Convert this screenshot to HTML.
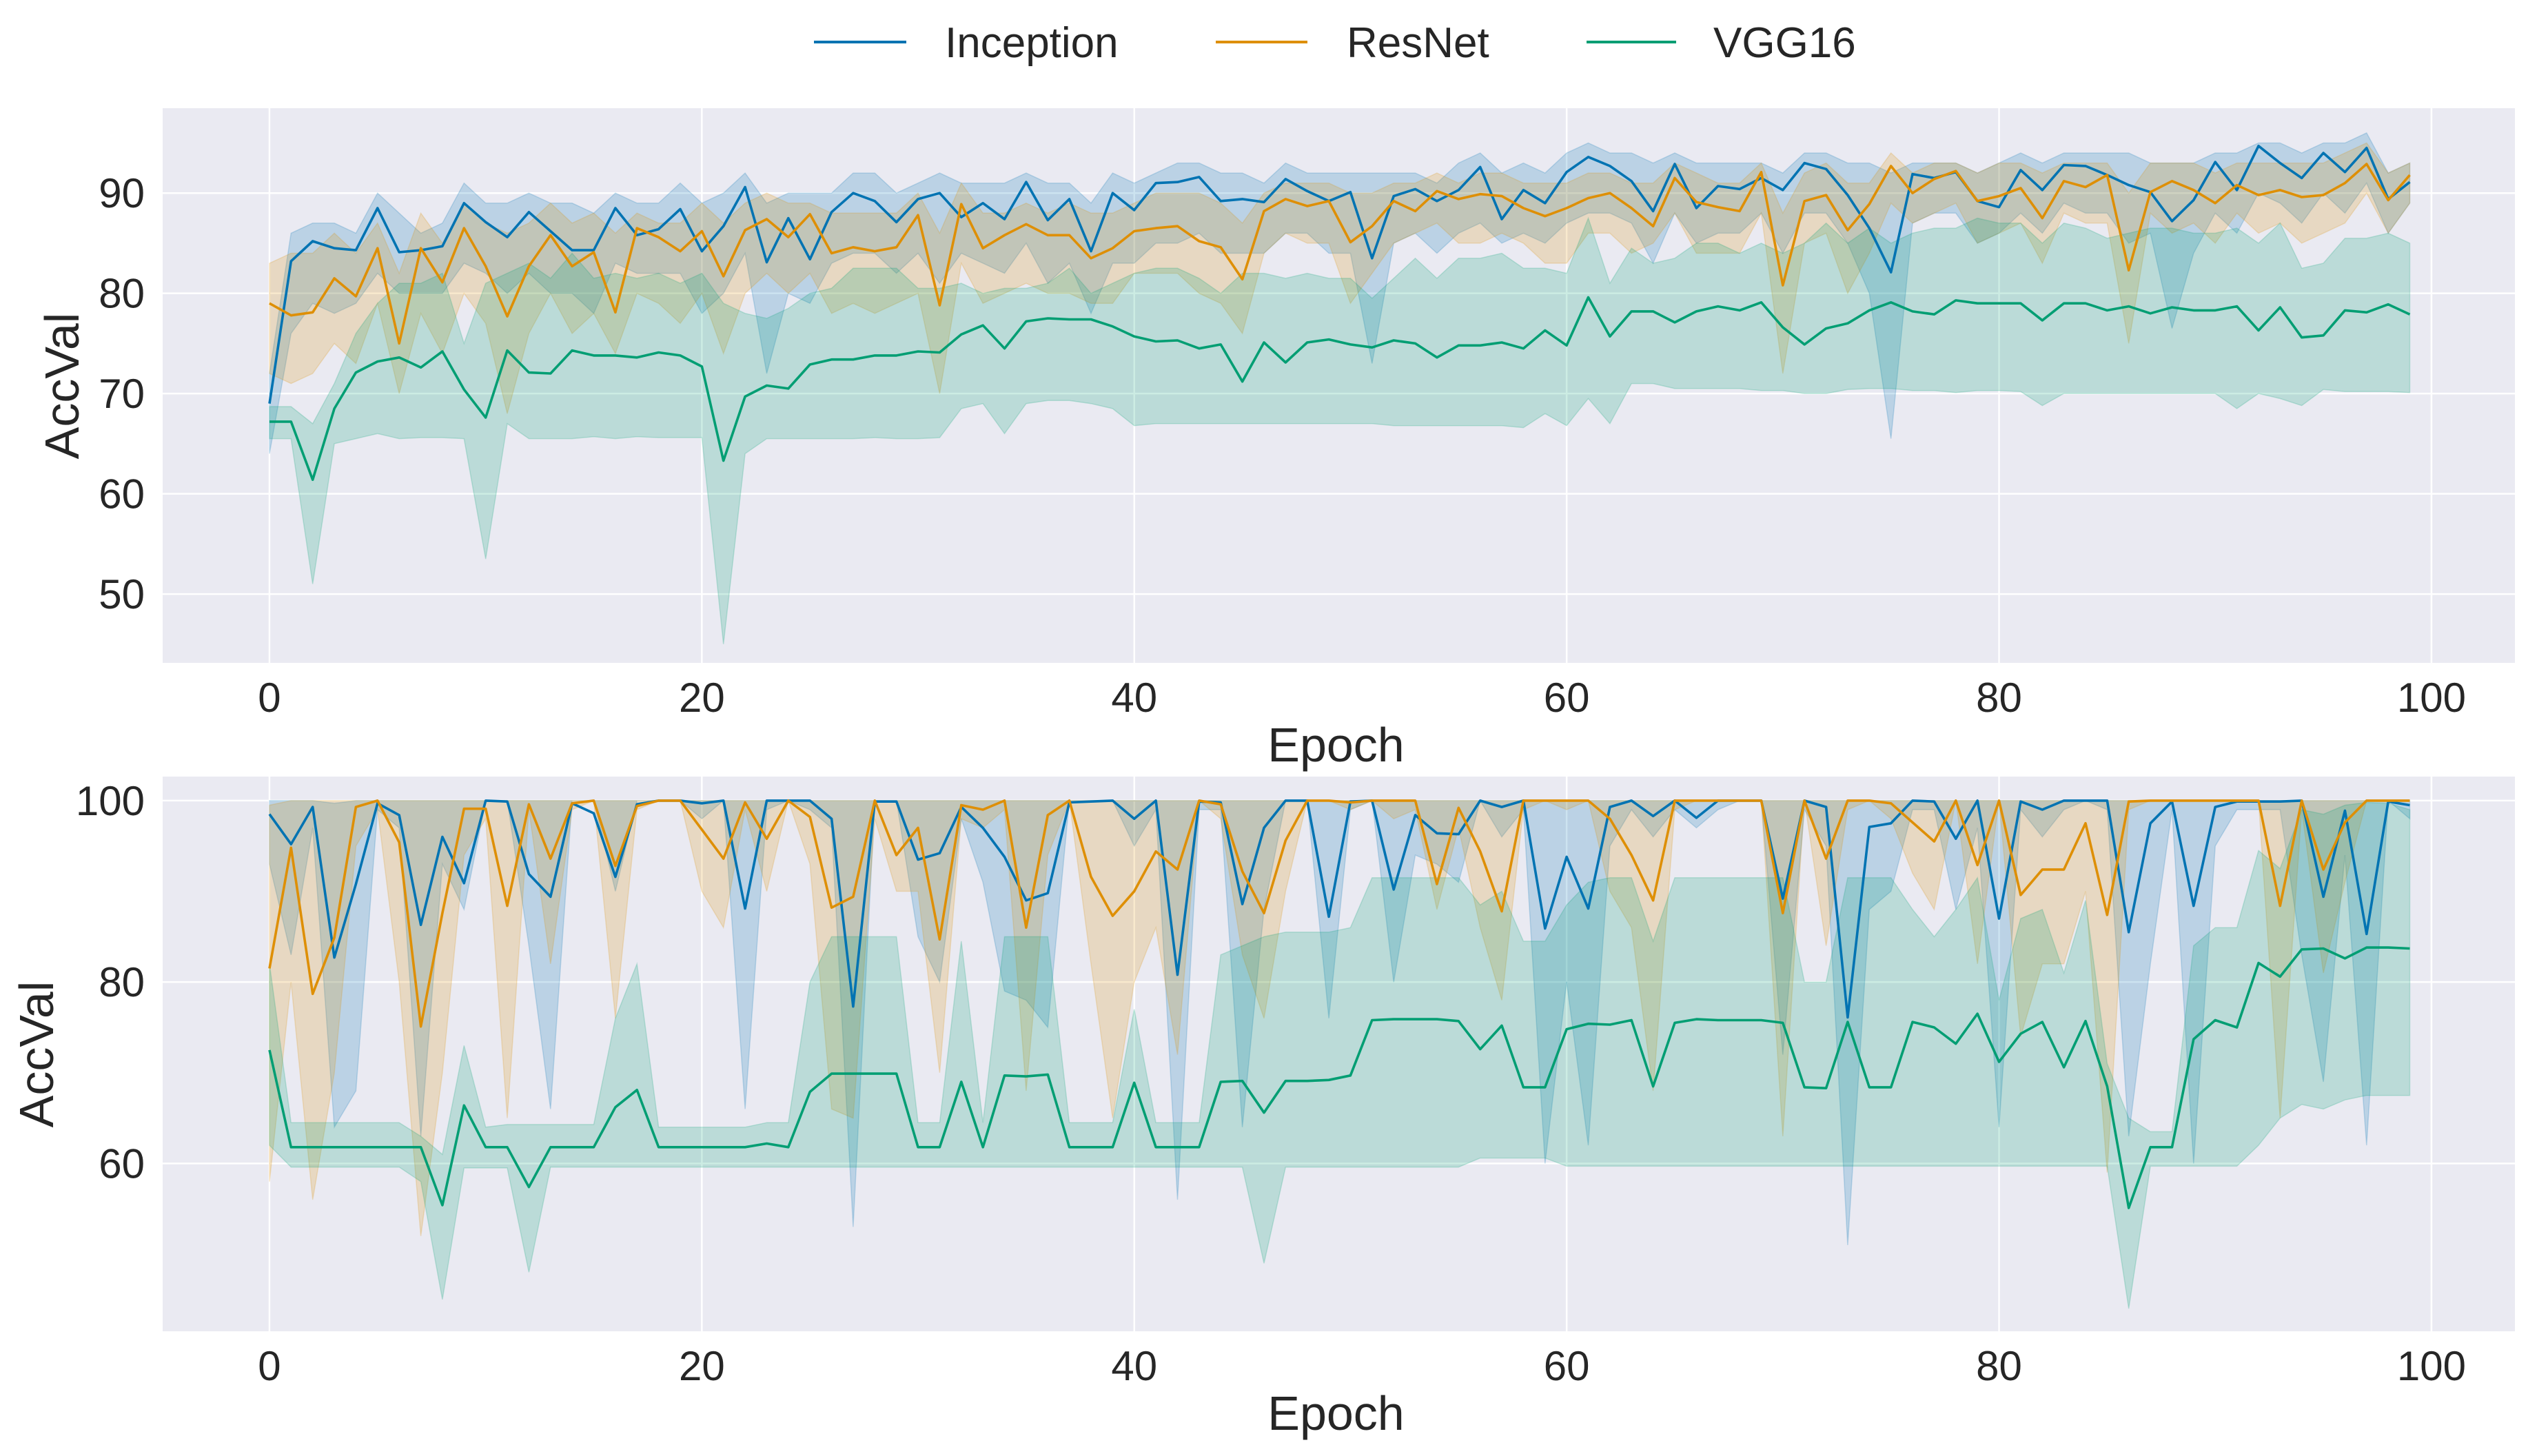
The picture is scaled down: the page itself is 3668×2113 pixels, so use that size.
<!DOCTYPE html>
<html><head><meta charset="utf-8"><style>
html,body{margin:0;padding:0;background:#fff;}
svg{display:block;font-family:"Liberation Sans",Arial,sans-serif;}
</style></head><body>
<svg id="chart" width="3668" height="2113" viewBox="0 0 3668 2113" xmlns="http://www.w3.org/2000/svg">
<g id="legend">
<g><line x1="1181" y1="61" x2="1315" y2="61" stroke="#0173b2" stroke-width="4"/><text x="1371" y="83" font-size="62" fill="#262626">Inception</text></g>
<g><line x1="1764" y1="61" x2="1897" y2="61" stroke="#de8f05" stroke-width="4"/><text x="1954" y="83" font-size="62" fill="#262626">ResNet</text></g>
<g><line x1="2302" y1="61" x2="2432" y2="61" stroke="#029e73" stroke-width="4"/><text x="2486" y="83" font-size="62" fill="#262626">VGG16</text></g>
</g>
</svg>
<script>
const epochs = Array.from({length:100},(_, i)=>i);
const seriesNames = ["Inception","ResNet","VGG16"];
const xTicks = [0,20,40,60,80,100];
const topYTicks = [50,60,70,80,90];
const botYTicks = [60,80,100];

const topIncMean = [69.0,83.2,85.2,84.5,84.3,88.5,84.1,84.3,84.7,89.0,87.1,85.6,88.1,86.2,84.3,84.3,88.5,85.8,86.4,88.4,84.2,86.7,90.6,83.1,87.5,83.4,88.1,90.0,89.2,87.1,89.4,90.0,87.6,89.0,87.4,91.1,87.3,89.4,84.2,90.0,88.3,91.0,91.1,91.6,89.2,89.4,89.1,91.4,90.2,89.2,90.1,83.5,89.7,90.4,89.2,90.3,92.6,87.4,90.3,89.0,92.1,93.6,92.7,91.2,88.2,92.9,88.5,90.7,90.4,91.5,90.3,93.0,92.4,89.8,86.5,82.1,91.9,91.5,92.1,89.2,88.6,92.3,90.3,92.8,92.7,91.8,90.8,90.1,87.2,89.3,93.1,90.3,94.7,93.0,91.5,94.0,92.1,94.5,89.4,91.1];
const topIncLo = [64,76,79,78,79,82,80,80,80,83,82,80,82,80,80,78,83,82,82,82,78,80,84,72,80,79,83,84,84,82,84,81,84,83,82,85,81,83,78,83,83,85,85,86,84,84,84,86,86,84,84,73,85,86,84,86,87,85,86,85,87,88,88,87,83,88,85,86,86,88,84,88,88,85,80,65.5,87,88,88,85,86,88,86,89,88,88,85,86,76.5,84,88,86,90,89,87,90,88,91,86,89];
const topIncHi = [72,86,87,87,86,90,88,86,87,91,89,89,90,89,89,88,90,89,89,91,89,90,92,89,90,90,90,92,92,90,91,92,91,91,91,92,91,91,89,92,91,92,93,93,92,92,91,93,92,92,92,92,92,92,91,93,94,92,93,92,94,95,94,94,93,94,93,93,93,93,92,94,94,93,93,92,93,93,93,92,93,94,93,94,94,94,94,93,93,93,94,94,95,95,94,95,95,96,92,93];
const topResMean = [79.0,77.8,78.1,81.5,79.7,84.5,75.0,84.5,81.1,86.5,82.7,77.7,82.7,85.8,82.7,84.1,78.1,86.5,85.6,84.2,86.2,81.7,86.3,87.4,85.6,87.9,84.0,84.6,84.2,84.6,87.8,78.8,88.9,84.5,85.8,86.9,85.8,85.8,83.5,84.5,86.2,86.5,86.7,85.2,84.6,81.4,88.2,89.4,88.7,89.2,85.1,86.7,89.2,88.2,90.2,89.4,89.9,89.7,88.5,87.7,88.5,89.5,90.0,88.5,86.7,91.5,89.1,88.6,88.2,92.1,80.8,89.2,89.8,86.3,88.9,92.7,90.0,91.4,92.2,89.2,89.7,90.5,87.5,91.2,90.6,91.8,82.3,90.1,91.2,90.3,89.0,90.8,89.8,90.3,89.6,89.8,91.0,92.9,89.3,91.8];
const topResLo = [72,71,72,75,73,79,70,78,74,80,77,68,76,80,76,78,74,80,79,77,80,74,80,82,80,82,78,79,78,79,80,70,83,79,80,81,80,80,79,79,82,82,82,80,79,76,84,86,85,85,79,82,85,86,87,85,85,86,85,83,83,86,86,84,85,88,84,84,84,88,72,85,86,80,84,89,87,88,89,85,86,87,83,88,87,87,75,88,86,87,85,88,86,87,85,86,87,90,86,89];
const topResHi = [83,84,84,86,84,87,82,88,85,89,87,86,87,89,87,88,86,88,87,87,89,87,89,90,89,89,88,88,88,88,90,86,91,88,88,89,88,89,88,88,89,90,90,90,89,87,90,91,91,91,90,90,91,91,92,91,92,92,91,91,91,92,92,91,91,93,92,91,91,93,88,92,93,91,91,94,92,93,93,92,93,93,92,93,93,93,90,93,93,93,92,93,93,93,93,93,94,95,92,93];
const topVggMean = [67.2,67.2,61.4,68.5,72.1,73.2,73.6,72.6,74.2,70.4,67.6,74.3,72.1,72.0,74.3,73.8,73.8,73.6,74.1,73.8,72.7,63.3,69.7,70.8,70.5,72.9,73.4,73.4,73.8,73.8,74.2,74.1,75.9,76.8,74.5,77.2,77.5,77.4,77.4,76.7,75.7,75.2,75.3,74.5,74.9,71.2,75.1,73.1,75.1,75.4,74.9,74.6,75.3,75.0,73.6,74.8,74.8,75.1,74.5,76.3,74.8,79.6,75.7,78.2,78.2,77.1,78.2,78.7,78.3,79.1,76.6,74.9,76.5,77.0,78.3,79.1,78.2,77.9,79.3,79.0,79.0,79.0,77.3,79.0,79.0,78.3,78.7,78.0,78.6,78.3,78.3,78.7,76.3,78.6,75.6,75.8,78.3,78.1,78.9,77.9];
const topVggLo = [65.5,65.5,51,65,65.5,66,65.5,65.6,65.6,65.5,53.5,67,65.5,65.5,65.5,65.7,65.5,65.7,65.6,65.6,65.6,45,64,65.5,65.5,65.5,65.5,65.5,65.6,65.5,65.5,65.6,68.5,69,66,69,69.3,69.3,69,68.5,66.8,67,67,67,67,67,67,67,67,67,67,67,66.8,66.8,66.8,66.8,66.8,66.8,66.6,68,66.8,69.5,67,71,71,70.5,70.5,70.5,70.5,70.3,70.3,70,70,70.4,70.5,70.5,70.3,70.3,70.1,70.3,70.3,70.2,68.8,70,70,70,70,70,70,70,70,68.5,70,69.5,68.8,70.4,70.2,70.2,70.2,70.1];
const topVggHi = [68.7,68.7,67,71,76,79,81,81,82,75,81,82,83,81.5,84,81.5,82,81.5,82,81,82,79,78,77.5,78.5,80,80.5,82.5,82.5,82.5,80.5,80.5,81,80,80.5,80.5,81,82.5,80,81,82,82.5,82.5,81.5,80,82,82,81.5,82,81.5,81.5,79.5,81.5,83.5,81.5,83.5,83.5,84,82.5,82.5,82,87.5,81,84.5,83,83.5,85,85,84,85,84,85,87,85,86.5,85,86,86.5,86.5,87.5,87,87,85,87,86.5,85.5,86,86.5,86.5,86,86,86.5,85,87,82.5,83,85.5,85.5,86,85];

const botIncMean = [98.5,95.2,99.3,82.7,90.8,99.7,98.4,86.3,96.0,90.9,100,99.9,91.9,89.4,99.7,98.6,91.6,99.6,100,100,99.7,100,88.1,100,100,100,98.0,77.3,99.9,99.9,93.5,94.2,99.3,97.0,93.8,89.0,89.8,99.8,99.9,100,98.0,100,80.8,99.9,99.8,88.6,97.0,100,100,87.2,99.9,100,90.2,98.4,96.4,96.3,100,99.3,100,85.9,93.8,88.1,99.3,100,98.3,100,98.1,100,100,100,89.2,100,99.3,76.1,97.1,97.5,100,99.9,95.8,100,87.0,99.9,99.0,100,100,100,85.5,97.5,99.9,88.4,99.3,99.9,99.9,99.9,100,89.4,98.9,85.3,99.9,99.5];
const botIncLo = [93,83,97,64,68,99,97,63,93,88,100,100,84,66,100,100,90,100,100,100,98,100,66,99,100,99,97,53,100,100,85,80,98,91,79,78,75,100,100,100,95,99,56,99,99,64,88,100,100,76,99,100,80,94,93,91,100,96,99,60,80,62,95,99,96,99,97,99,100,100,72,99,95,51,88,90,99,99,88,97,64,99,96,99,100,99,63,82,99,60,95,99,99,99,83,69,94,62,100,98];
const botIncHi = [100,100,100,99.7,100,100,100,100,100,100,100,100,100,100,100,100,100,100,100,100,100,100,100,100,100,100,100,100,100,100,100,100,100,100,100,100,100,100,100,100,100,100,100,100,100,100,100,100,100,100,100,100,100,100,100,100,100,100,100,100,100,100,100,100,100,100,100,100,100,100,100,100,100,100,100,100,100,100,100,100,100,100,100,100,100,100,100,100,100,100,100,100,100,100,100,100,100,100,100,100];
const botResMean = [81.5,94.8,78.7,84.9,99.3,100,95.4,75.1,87.6,99.1,99.1,88.4,99.6,93.6,99.7,100,92.8,99.4,100,100,96.8,93.6,99.8,95.8,100,98.2,88.2,89.4,100,94,97,84.7,99.5,99,100,86.0,98.4,100,91.6,87.3,90.0,94.4,92.4,100,99.6,92.2,87.6,95.6,100,100,99.8,100,100,100,90.8,99.2,94.4,87.8,100,100,100,100,98,94,89,100,100,100,100,100,87.6,100,93.6,100,100,99.7,97.6,95.5,100,92.9,100,89.6,92.4,92.4,97.5,87.4,99.9,100,100,100,100,100,100,88.4,100,92.4,97.6,100,100,100];
const botResLo = [58,80,56,70,95,99,80,52,70,94,98,65,99,82,99,100,76,99,100,100,90,86,99,90,100,93,66,65,98,90,90,70,98,97,99,68,94,100,82,65,80,86,72,100,98,83,76,90,100,100,99,100,98,99,88,97,86,78,99,100,99,100,90,86,68,99,100,100,100,100,63,100,84,99,100,98,92,88,100,82,100,74,82,82,90,59,99,100,100,100,100,100,100,65,99,81,91,100,100,100];
const botResHi = [99.5,100,100,100,100,100,100,100,100,100,100,100,100,100,100,100,100,100,100,100,100,100,100,100,100,100,100,100,100,100,100,100,100,100,100,100,100,100,100,100,100,100,100,100,100,100,100,100,100,100,100,100,100,100,100,100,100,100,100,100,100,100,100,100,100,100,100,100,100,100,100,100,100,100,100,100,100,100,100,100,100,100,100,100,100,100,100,100,100,100,100,100,100,100,100,100,100,100,100,100];
const botVggMean = [72.5,61.8,61.8,61.8,61.8,61.8,61.8,61.8,55.4,66.4,61.8,61.8,57.4,61.8,61.8,61.8,66.2,68.1,61.8,61.8,61.8,61.8,61.8,62.2,61.8,67.9,69.9,69.9,69.9,69.9,61.8,61.8,69.0,61.8,69.7,69.6,69.8,61.8,61.8,61.8,68.9,61.8,61.8,61.8,69.0,69.1,65.6,69.1,69.1,69.2,69.7,75.8,75.9,75.9,75.9,75.7,72.6,75.2,68.4,68.4,74.8,75.4,75.3,75.8,68.5,75.5,75.9,75.8,75.8,75.8,75.5,68.4,68.3,75.6,68.4,68.4,75.6,75.0,73.2,76.5,71.2,74.3,75.6,70.6,75.7,68.5,55.1,61.8,61.8,73.7,75.8,75.0,82.1,80.6,83.6,83.7,82.6,83.8,83.8,83.7];
const botVggLo = [62,59.6,59.6,59.6,59.6,59.6,59.6,58,45,59.5,59.5,59.5,48,59.6,59.6,59.6,59.6,59.6,59.6,59.6,59.6,59.6,59.6,59.6,59.6,59.6,59.6,59.6,59.6,59.6,59.6,59.6,59.6,59.6,59.6,59.6,59.6,59.6,59.6,59.6,59.6,59.6,59.6,59.6,59.6,59.6,49,59.6,59.6,59.6,59.6,59.6,59.6,59.6,59.6,59.6,60.6,60.6,60.6,60.6,59.7,59.7,59.7,59.7,59.7,59.7,59.7,59.7,59.7,59.7,59.7,59.7,59.7,59.7,59.7,59.7,59.7,59.7,59.7,59.7,59.7,59.7,59.7,59.7,59.7,59.7,44,59.7,59.7,59.7,59.7,59.7,62,65,66.5,66,67,67.5,67.5,67.5];
const botVggHi = [82,64.5,64.5,64.5,64.5,64.5,64.5,63,61,73,64,64.3,64.3,64.3,64.3,64.3,76,82,64,64,64,64,64,64.5,64.5,80,85,85,85,85,64.5,64.5,84.5,64.5,85,85,85,64.5,64.5,64.5,77,64.5,64.5,64.5,83,84,85,85.5,85.5,85.5,86,91.5,91.5,91.5,91.5,91.5,88.5,90,84.5,84.5,88.5,91,91.5,91.5,84.5,91.5,91.5,91.5,91.5,91.5,91.5,80,80,91.5,91.5,91.5,88,85,88,91.5,78,87,88,81,89,71,65,63.5,63.5,84,86,86,94.5,92.5,99,98.5,99.5,99.8,99.7,99];

const NS = "http://www.w3.org/2000/svg";
const svg = document.getElementById('chart');
const colors = ["#0173b2","#de8f05","#029e73"];
function mk(tag, attrs, parent){const e=document.createElementNS(NS,tag);for(const k in attrs)e.setAttribute(k,attrs[k]);(parent||svg).appendChild(e);return e;}

const X0 = 236, X1 = 3649, XMIN = -4.94, XMAX = 103.86;
function xs(v){return X0 + (v - XMIN) / (XMAX - XMIN) * (X1 - X0);}

function panel(name, top, bottom, yminV, ymaxV, yTicks, sets, titleX, titleY){
  const ys = v => bottom - (v - yminV) / (ymaxV - yminV) * (bottom - top);
  const g = mk('g', {});
  
  
  const bg = mk('rect', {x:X0, y:top, width:X1-X0, height:bottom-top, fill:'#eaeaf2'}, g);
  
  
  xTicks.forEach(t => {
    const l = mk('line', {x1:xs(t), x2:xs(t), y1:top, y2:bottom, stroke:'#fff', 'stroke-width':2.5}, g);
    
    
    const tx = mk('text', {x:xs(t), y:bottom+71, 'font-size':60, 'text-anchor':'middle', fill:'#262626'}, g);
    
    
    tx.textContent = t;
  });
  yTicks.forEach(t => {
    const l = mk('line', {x1:X0, x2:X1, y1:ys(t), y2:ys(t), stroke:'#fff', 'stroke-width':2.5}, g);
    
    
    const tx = mk('text', {x:210, y:ys(t)+21, 'font-size':60, 'text-anchor':'end', fill:'#262626'}, g);
    
    
    tx.textContent = t;
  });
  sets.forEach((s, i) => {
    let d = '';
    epochs.forEach((e, j) => { d += (j ? 'L' : 'M') + xs(e).toFixed(1) + ',' + ys(s.hi[j]).toFixed(1); });
    for (let j = epochs.length - 1; j >= 0; j--) d += 'L' + xs(epochs[j]).toFixed(1) + ',' + ys(s.lo[j]).toFixed(1);
    const band = mk('path', {d:d+'Z', fill:colors[i], 'fill-opacity':0.2, stroke:colors[i], 'stroke-opacity':0.2, 'stroke-width':1.5}, g);
    
    
  });
  sets.forEach((s, i) => {
    const pts = epochs.map((e, j) => xs(e).toFixed(1) + ',' + ys(s.mean[j]).toFixed(1)).join(' ');
    const ln = mk('polyline', {points:pts, fill:'none', stroke:colors[i], 'stroke-width':3.6, 'stroke-linejoin':'round'}, g);
    
    
  });
  const xt = mk('text', {x:(X0+X1)/2 - 4, y:bottom+143, 'font-size':70, 'text-anchor':'middle', fill:'#262626'}, g);
  
  
  xt.textContent = 'Epoch';
  const yt = mk('text', {x:0, y:0, 'font-size':70, 'text-anchor':'middle', fill:'#262626', transform:'translate(' + titleX + ',' + titleY + ') rotate(-90)'}, g);
  
  
  yt.textContent = 'AccVal';
}

panel('top-panel', 157, 962, 43.13, 98.47, topYTicks, [
  {mean:topIncMean, lo:topIncLo, hi:topIncHi},
  {mean:topResMean, lo:topResLo, hi:topResHi},
  {mean:topVggMean, lo:topVggLo, hi:topVggHi}], 114, 560);
panel('bottom-panel', 1127, 1932, 41.5, 102.65, botYTicks, [
  {mean:botIncMean, lo:botIncLo, hi:botIncHi},
  {mean:botResMean, lo:botResLo, hi:botResHi},
  {mean:botVggMean, lo:botVggLo, hi:botVggHi}], 77, 1530);
svg.appendChild(document.getElementById('legend'));
</script>
</body></html>
